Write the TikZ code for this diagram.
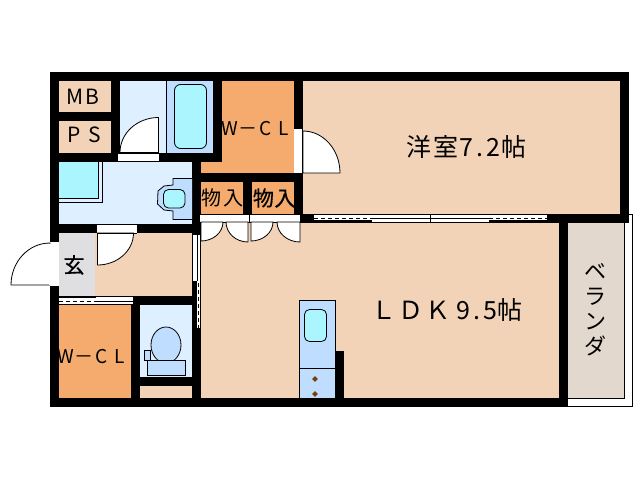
\documentclass[tikz,border=0pt]{standalone}
\usepackage{fontspec}
\newfontfamily\jp{Noto Sans CJK JP}
\newfontfamily\jpb[FakeBold=0.6]{Noto Sans CJK JP}
\usetikzlibrary{calc}
\definecolor{peach}{HTML}{F2D3B8}
\definecolor{closet}{HTML}{F4AB6D}
\definecolor{wetroom}{HTML}{DEF0FF}
\definecolor{fixture}{HTML}{BEDDFF}
\definecolor{basin}{HTML}{ABF5FF}
\definecolor{entry}{HTML}{DFDFE1}
\definecolor{veranda}{HTML}{E2D8CE}
\definecolor{knob}{HTML}{7B3F00}
\newcommand{\ch}[2]{\makebox[#1pt][c]{#2}}
\newcommand{\swing}[6]{%
  \coordinate (sc) at (#1,#2);\coordinate (sa) at (#3,#4);\coordinate (sb) at (#5,#6);
  \coordinate (sd) at ($(sa)+(sb)-(sc)$);
  \draw[doorline,fill=white] (sc) -- (sa) .. controls ($(sa)!.5523!(sd)$) and ($(sb)!.5523!(sd)$) .. (sb) -- cycle;}
\tikzset{
  room/.style={fill=#1,draw=none},
  wall/.style={fill=black,draw=none},
  gap/.style={fill=white,draw=none},
  doorline/.style={draw=black,line width=.8pt},
  thin line/.style={draw=black,line width=.8pt},
  dashline/.style={draw=black,line width=1pt,dash pattern=on 4pt off 3pt},
  label/.style={font=\jp,text=black,inner sep=0pt,outer sep=0pt},
}
\begin{document}
\begin{tikzpicture}[x=1pt,y=-1pt]
\useasboundingbox (0,0) rectangle (638,480);
\fill[white] (0,0) rectangle (638,480);
% veranda rail
\draw[thin line,fill=white] (620,214.5) -- (632,214.5) -- (632,406) -- (560,406);
% walls
\fill[wall] (50,72) rectangle (629,223);
\fill[wall] (50,223) rectangle (568,407);
% rooms
\fill[room=peach] (59,81) rectangle (111,112);
\fill[room=peach] (59,121) rectangle (111,153);
\fill[room=wetroom] (120,81) rectangle (213,153);
\fill[room=closet] (222,81) rectangle (294,173);
\fill[room=closet] (201,162) rectangle (222,173);
\fill[room=peach] (303,81) rectangle (620,214);
\fill[room=closet] (201,182) rectangle (243,214);
\fill[room=closet] (252,182) rectangle (294,214);
\fill[room=wetroom] (59,162) rectangle (192,224);
\fill[room=entry] (59,233) rectangle (95,296);
\fill[room=peach] (95,233) rectangle (192,296);
\fill[room=closet] (59,305) rectangle (131,398);
\fill[room=wetroom] (140,305) rectangle (192,377);
\fill[room=peach] (140,386) rectangle (192,398);
\fill[room=peach] (201,223) rectangle (559,398);
\fill[room=veranda] (568,223) rectangle (624,398);
\draw[thin line] (624,223) -- (624,398) -- (568,398);
% tub
\fill[room=fixture] (166,81) rectangle (213,153);
\draw[thin line] (166,81) -- (166,153);
\draw[thin line,fill=basin,rounded corners=6pt] (174.5,84.5) rectangle (206.5,148.5);
% bath door
\fill[gap] (118,153) rectangle (159,161);
\draw[thin line] (118,153) -- (159,153) (159,153) -- (159,161);
\swing{158.5}{152.5}{158.5}{117.5}{120}{152.5}
% washing pan
\fill[room=basin] (59,162) rectangle (98,198);
\draw[thin line] (59,198.5) -- (98.5,198.5) -- (98.5,162);
\draw[thin line] (59,202) -- (102.5,202) -- (102.5,162);
% basin unit
\draw[thin line,fill=fixture] (192,178.5) -- (173,178.5) -- (173,185) -- (164,186) -- (158,191) -- (157.5,204) -- (164,210) -- (173,211) -- (173,219.5) -- (192,219.5);
\draw[thin line,fill=basin,rounded corners=5pt] (163.5,189.5) rectangle (185,208);
% wash-room door opening
\fill[gap] (97,224) rectangle (137,233);
\draw[thin line] (97,224.5) -- (137,224.5) -- (137,233);
\swing{97.5}{233}{133.5}{233}{97.5}{265}
\draw[thin line] (97,233) -- (137,233);
% WCL door and room door
\fill[gap] (294,129) rectangle (303,173);
\draw[thin line] (302.5,129) -- (302.5,173);
\swing{303}{173}{303}{131}{340}{173}
% closet doors
\fill[gap] (200,215) rectangle (300,222);
\draw[thin line] (200,214.5) -- (300,214.5) (201,222) -- (300,222);
\swing{201}{222}{223}{222}{201}{241}
\swing{248}{222}{226}{222}{248}{242}
\swing{251}{222}{273}{222}{251}{241}
\swing{300}{222}{277}{222}{300}{242}
\draw[line width=1.5pt] (249.5,214) -- (249.5,222);
% big window
\fill[gap] (314,215) rectangle (547,222);
\draw[thin line] (314,214.5) -- (547,214.5);
\fill[wall] (314,220) rectangle (372,222.5);
\fill[wall] (489,220) rectangle (547,222.5);
\draw[thin line] (372,222) -- (489,222);
\draw[dashline] (314,218) -- (372,218);
\draw[thin line] (372,218) -- (489,218);
\draw[dashline] (489,218) -- (547,218);
\draw[thin line] (430.5,214) -- (430.5,222);
% sliding door hall/LDK
\fill[gap] (193,235) rectangle (200,328);
\fill[wall] (192,281) rectangle (197,328);
\draw[thin line] (197,235) -- (197,281);
\draw[thin line] (200.4,235) -- (200.4,328);
\draw[dashline] (198.5,283) -- (198.5,328);
% sliding door W-CL
\fill[gap] (59,297) rectangle (133,304);
\fill[wall] (59,295.5) rectangle (96,298);
\draw[thin line] (96,296.5) -- (133,296.5) -- (133,304);
\draw[thin line] (59,304.2) -- (133,304.2);
\draw[dashline] (59,301) -- (96,301);
\draw[thin line] (96,301) -- (133,301);
% entrance door
\fill[gap] (50,242) rectangle (59,286);
\swing{50}{285}{50}{243}{11}{285}
\fill[gap] (49.4,243.5) rectangle (51,284.5);
% toilet
\draw[thin line,fill=fixture] (144.5,350.5) rectangle (150.5,360);
\draw[thin line,fill=fixture] (166,345) ellipse (15 and 18);
\draw[thin line,fill=fixture] (147.5,360.5) rectangle (185.5,375.5);
% kitchen
\draw[thin line,fill=fixture] (299.5,300.5) rectangle (335.5,398);
\draw[thin line] (299.5,368) -- (335.5,368);
\draw[thin line,fill=basin,rounded corners=5pt] (304.5,309.5) rectangle (326.5,341.5);
\fill[wall] (335.5,351) rectangle (344,398);
\fill[knob] (315,376.2) -- (317.8,379) -- (315,381.8) -- (312.2,379) -- cycle;
\fill[knob] (315,391.2) -- (317.8,394) -- (315,396.8) -- (312.2,394) -- cycle;
% labels
\node[label,font=\jp\fontsize{21}{21}\selectfont] (mb) at (83,97) {\ch{19}{M}\ch{16}{B}};
\node[label,font=\jp\fontsize{21}{21}\selectfont] (ps) at (84,135) {\ch{21}{P}\ch{19}{S}};
\node[label,font=\jp\fontsize{19}{19}\selectfont] (wcla) at (256,129) {\ch{19}{W}\ch{18}{－}\ch{18}{C}\ch{17}{L}};
\node[label,font=\jp\fontsize{19}{19}\selectfont] (wclb) at (92,357) {\ch{19}{W}\ch{18}{－}\ch{18}{C}\ch{17}{L}};
\node[label,font=\jp\fontsize{20}{20}\selectfont] (cla) at (222,198) {\ch{22}{物}\ch{21}{入}};
\node[label,font=\jpb\fontsize{21}{21}\selectfont] (clb) at (274,198) {\ch{22}{物}\ch{21}{入}};
\node[label,font=\jpb\fontsize{21}{21}\selectfont] (gen) at (74,265) {玄};
\node[label,font=\jp\fontsize{25}{25}\selectfont] (yo) at (466,147) {\ch{27}{洋}\ch{27}{室}\ch{14}{7}\ch{13}{.}\ch{14}{2}\ch{26}{帖}};
\node[label,font=\jp\fontsize{25}{25}\selectfont] (ldk) at (446.5,310) {\ch{27}{Ｌ}\ch{27}{Ｄ}\ch{27}{Ｋ}\hspace{4.5pt}\ch{14}{9}\ch{13}{.}\ch{14}{5}\ch{25}{帖}};
\node[label,align=center,font=\jp\fontsize{22}{25}\selectfont] (ver) at (595,310) {ベ\\ラ\\ン\\ダ};
\end{tikzpicture}
\end{document}
